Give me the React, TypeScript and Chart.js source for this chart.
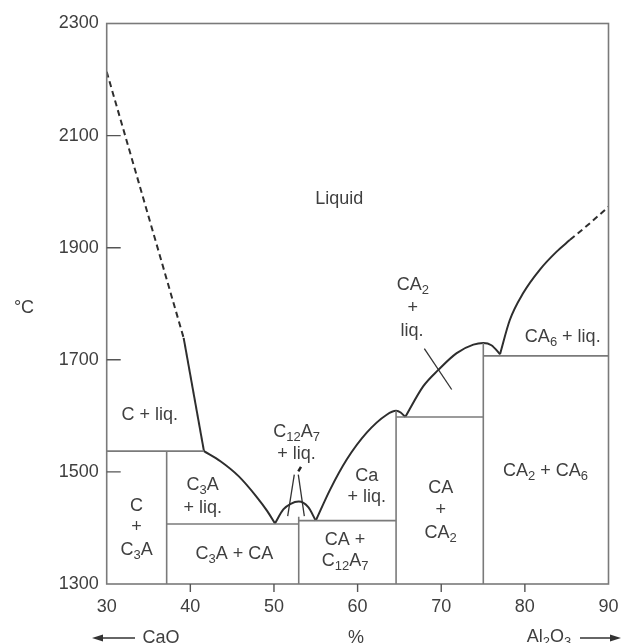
import React, { useEffect, useRef } from 'react';
import { Chart, registerables } from 'chart.js';
Chart.register(...registerables);

// ---- axis definitions ----
const xMin = 30, xMax = 90, xStep = 10;
const yMin = 1300, yMax = 2300, yStep = 200;
const xTickMarks = [40, 50, 60, 70, 80];
const yTickMarks = [1500, 1700, 1900, 2100];

// ---- phase boundary curves (wt% Al2O3, °C) ----
const caoLiquidusDashed = [[30, 2214], [39.2, 1739]];
const caoLiquidus = [[39.2, 1739], [41.63, 1537]];
const c3aLiquidus = [[41.63, 1537], [43.6, 1519], [45.8, 1492], [47.9, 1456], [49.2, 1430], [50.12, 1408]];
const c12a7Liquidus = [[50.12, 1408], [51.12, 1433], [52.0, 1443], [52.96, 1447], [54.1, 1437], [55.0, 1413]];
const caLiquidus = [[55.0, 1413], [56.7, 1468], [58.7, 1522], [61.09, 1570], [63.48, 1602], [64.6, 1609], [65.15, 1606], [65.7, 1598]];
const ca2Liquidus = [[65.7, 1598], [67.86, 1653], [69.65, 1682], [71.85, 1712], [73.84, 1727], [75.03, 1730], [76.0, 1726], [77.03, 1710]];
const ca6Liquidus = [[77.03, 1710], [78.2, 1771], [79.8, 1819], [81.8, 1861], [83.8, 1893], [85.4, 1914]];
const ca6LiquidusDashed = [[85.4, 1914], [87.8, 1944], [90, 1973]];

// ---- straight boundaries ----
const eutecticC_C3A = [[30, 1537], [41.63, 1537]];
const c3aLine = [[37.17, 1300], [37.17, 1537]];
const eutecticC3A_C12A7 = [[37.17, 1407], [52.96, 1407]];
const c12a7Line = [[52.96, 1300], [52.96, 1420]];
const eutecticC12A7_CA = [[52.96, 1413], [64.6, 1413]];
const caLine = [[64.6, 1300], [64.6, 1609]];
const eutecticCA_CA2 = [[64.6, 1598], [75.03, 1598]];
const ca2Line = [[75.03, 1300], [75.03, 1730]];
const peritecticCA6 = [[75.03, 1707], [90, 1707]];

// ---- leader lines ----
const leaderC12A7Left = [[52.43, 1495], [51.64, 1421]];
const leaderC12A7Right = [[52.91, 1495], [53.63, 1421]];
const leaderC12A7Tick = [[52.91, 1501], [53.23, 1509]];
const leaderCA2 = [[67.98, 1720], [71.25, 1647]];

// ---- region labels ("_n" = subscript) ----
const labelTexts = [
  'Liquid', 'C + liq.', 'C', '+', 'C_3A', 'C_3A', '+ liq.', 'C_3A + CA',
  'C_12A_7', '+ liq.', 'Ca', '+ liq.', 'CA +', 'C_12A_7',
  'CA', '+', 'CA_2', 'CA_2', '+', 'liq.', 'CA_6 + liq.', 'CA_2 + CA_6',
];
const labelX = [
  57.81, 35.14, 33.57, 33.57, 33.57, 41.48, 41.48, 45.27,
  52.7, 52.7, 61.1, 61.1, 58.5, 58.5,
  69.93, 69.93, 69.93, 66.6, 66.6, 66.5, 84.53, 82.47,
];
const labelY = [
  1987, 1601, 1439, 1401, 1360, 1476, 1436, 1353,
  1571, 1531, 1493, 1455, 1379, 1341,
  1472, 1432, 1391, 1834, 1792, 1751, 1741, 1501,
];

const yTitle = '°C';
const leftComponent = 'CaO';
const centerUnit = '%';
const rightComponent = 'Al_2O_3';

const FONT = '"Liberation Sans", Arial, Helvetica, sans-serif';
const TEXT = '#3f3f3f';
const CURVE = '#2e2e2e';
const FRAME = '#7a7a7a';

const pts = (a: number[][]) => a.map(([x, y]) => ({ x, y }));

function drawRich(ctx: CanvasRenderingContext2D, text: string, cx: number, cy: number, size: number) {
  const parts: { t: string; sub: boolean }[] = [];
  const re = /_(\d+)/g;
  let last = 0; let m: RegExpExecArray | null;
  while ((m = re.exec(text))) {
    if (m.index > last) parts.push({ t: text.slice(last, m.index), sub: false });
    parts.push({ t: m[1], sub: true });
    last = m.index + m[0].length;
  }
  if (last < text.length) parts.push({ t: text.slice(last), sub: false });
  const subSize = Math.round(size * 0.72);
  let total = 0;
  const widths = parts.map(p => {
    ctx.font = `${p.sub ? subSize : size}px ${FONT}`;
    const w = ctx.measureText(p.t).width;
    total += w;
    return w;
  });
  let x = cx - total / 2;
  ctx.textBaseline = 'middle';
  ctx.textAlign = 'left';
  parts.forEach((p, i) => {
    ctx.font = `${p.sub ? subSize : size}px ${FONT}`;
    ctx.fillText(p.t, x, p.sub ? cy + size * 0.3 : cy);
    x += widths[i];
  });
  return total;
}

const overlay = {
  id: 'overlay',
  afterDatasetsDraw(chart: any) {
    const ctx: CanvasRenderingContext2D = chart.ctx;
    const xs = chart.scales.x, ys = chart.scales.y;
    const a = chart.chartArea;
    ctx.save();
    // frame
    ctx.strokeStyle = FRAME;
    ctx.lineWidth = 1.6;
    ctx.strokeRect(a.left, a.top, a.right - a.left, a.bottom - a.top);
    // ticks
    ctx.beginPath();
    yTickMarks.forEach(v => {
      const py = ys.getPixelForValue(v);
      ctx.moveTo(a.left, py); ctx.lineTo(a.left + 14, py);
    });
    xTickMarks.forEach(v => {
      const px = xs.getPixelForValue(v);
      ctx.moveTo(px, a.bottom); ctx.lineTo(px, a.bottom + 8);
    });
    ctx.strokeStyle = '#555';
    ctx.lineWidth = 1.4;
    ctx.stroke();
    // labels
    ctx.fillStyle = TEXT;
    labelTexts.forEach((t, i) => {
      drawRich(ctx, t, xs.getPixelForValue(labelX[i]), ys.getPixelForValue(labelY[i]), 18);
    });
    // axis titles
    drawRich(ctx, yTitle, 24, 308, 18);
    drawRich(ctx, leftComponent, 161, 638, 18);
    drawRich(ctx, centerUnit, 356, 638, 18);
    drawRich(ctx, rightComponent, 549, 637, 18);
    // arrows
    ctx.strokeStyle = '#333';
    ctx.fillStyle = '#333';
    ctx.lineWidth = 1.5;
    ctx.beginPath(); ctx.moveTo(100, 638); ctx.lineTo(135, 638); ctx.stroke();
    ctx.beginPath(); ctx.moveTo(92, 638); ctx.lineTo(103, 634.5); ctx.lineTo(103, 641.5); ctx.closePath(); ctx.fill();
    ctx.beginPath(); ctx.moveTo(580, 638); ctx.lineTo(612, 638); ctx.stroke();
    ctx.beginPath(); ctx.moveTo(621, 638); ctx.lineTo(610, 634.5); ctx.lineTo(610, 641.5); ctx.closePath(); ctx.fill();
    ctx.restore();
  },
};

export default function App() {
  const ref = useRef<HTMLCanvasElement>(null);
  useEffect(() => {
    if (!ref.current) return;
    const curve = (d: number[][], dashed = false) => ({
      data: pts(d), showLine: true, pointRadius: 0, borderColor: CURVE, borderWidth: 2,
      cubicInterpolationMode: 'monotone' as const, borderDash: dashed ? [6, 4] : [],
    });
    const straight = (d: number[][], color = FRAME, width = 1.6) => ({
      data: pts(d), showLine: true, pointRadius: 0, borderColor: color, borderWidth: width, tension: 0,
    });
    const chart = new Chart(ref.current, {
      type: 'scatter',
      data: {
        datasets: [
          straight(eutecticC_C3A), straight(c3aLine), straight(eutecticC3A_C12A7), straight(c12a7Line),
          straight(eutecticC12A7_CA), straight(caLine), straight(eutecticCA_CA2), straight(ca2Line),
          straight(peritecticCA6),
          curve(caoLiquidusDashed, true), curve(caoLiquidus), curve(c3aLiquidus), curve(c12a7Liquidus),
          curve(caLiquidus), curve(ca2Liquidus), curve(ca6Liquidus), curve(ca6LiquidusDashed, true),
          straight(leaderC12A7Left, '#333', 1.3), straight(leaderC12A7Right, '#333', 1.3),
          straight(leaderC12A7Tick, '#222', 2.5), straight(leaderCA2, '#333', 1.3),
        ] as any,
      },
      options: {
        animation: false,
        responsive: false,
        devicePixelRatio: 1,
        layout: { padding: { left: 0, right: 12.5, top: 23.5, bottom: 0 } },
        plugins: { legend: { display: false }, tooltip: { enabled: false } },
        scales: {
          x: {
            type: 'linear', min: xMin, max: xMax,
            grid: { display: false }, border: { display: false },
            ticks: { stepSize: xStep, padding: 4, color: TEXT, font: { family: FONT, size: 18 },
              callback: (v: any) => String(v) },
            afterFit: (s: any) => { s.height = 59; s.paddingLeft = 0; s.paddingRight = 0; },
          },
          y: {
            type: 'linear', min: yMin, max: yMax,
            grid: { display: false }, border: { display: false },
            ticks: { stepSize: yStep, padding: 0, color: TEXT, font: { family: FONT, size: 18 },
              callback: (v: any) => String(v) },
            afterFit: (s: any) => { s.width = 106.7; s.paddingTop = 0; s.paddingBottom = 0; },
          },
        },
      },
      plugins: [overlay],
    });
    return () => chart.destroy();
  }, []);
  return (
    <div style={{ position: 'fixed', left: 0, top: 0, width: 621, height: 643, background: '#fff' }}>
      <canvas ref={ref} width={621} height={643} style={{ display: 'block' }} />
    </div>
  );
}
